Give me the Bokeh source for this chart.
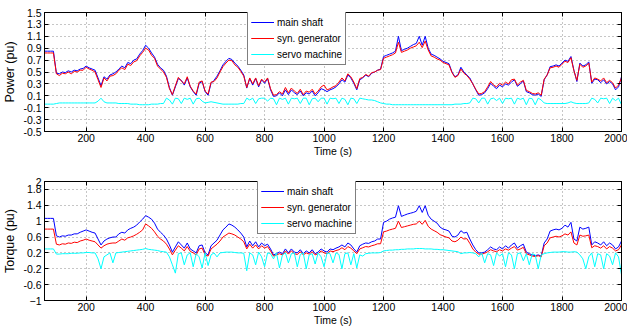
from bokeh.plotting import figure
from bokeh.layouts import column
from bokeh.models import FixedTicker, Legend, LegendItem, LinearAxis
from bokeh.embed import file_html
from bokeh.resources import INLINE

# time axis (s), 10 s sampling
TIME = list(range(60, 2001, 10))

P_MAIN = [0.85, 0.85, 0.85, 0.85,
          0.48, 0.47, 0.5, 0.49, 0.52, 0.5, 0.53, 0.52, 0.55, 0.56,
          0.6, 0.57, 0.55, 0.53, 0.4, 0.27, 0.42, 0.38, 0.45, 0.47,
          0.5, 0.55, 0.6, 0.57, 0.66, 0.64, 0.7, 0.72, 0.8, 0.86,
          0.95, 0.9, 0.82, 0.75, 0.63, 0.57, 0.53, 0.43, 0.24, 0.11,
          0.25, 0.39, 0.36, 0.28, 0.4, 0.25, 0.17, 0.11, 0.31, 0.34,
          0.17, 0.11, 0.31, 0.36, 0.43, 0.52, 0.62, 0.68, 0.73, 0.71,
          0.65, 0.6, 0.53, 0.45, 0.23, 0.39, 0.28, 0.39, 0.25, 0.37,
          0.31, 0.39, 0.2, 0.09, 0.1, 0.15, 0.1, 0.2, 0.12, 0.2,
          0.15, 0.12, 0.18, 0.1, 0.15, 0.13, 0.18, 0.1, 0.15, 0.22,
          0.2, 0.17, 0.2, 0.22, 0.25, 0.3, 0.37, 0.33, 0.45, 0.4,
          0.31, 0.2, 0.37, 0.4, 0.45, 0.42, 0.48, 0.5, 0.53, 0.55,
          0.76, 0.78, 0.8, 0.82, 0.85, 1.1, 0.86, 0.88, 0.9, 0.93,
          0.96, 0.98, 1.1, 0.95, 1.1, 0.9, 0.8, 0.78, 0.75, 0.72,
          0.68, 0.66, 0.64, 0.5, 0.42, 0.45, 0.58, 0.5, 0.45, 0.4,
          0.3, 0.2, 0.11, 0.12, 0.15, 0.22, 0.31, 0.26, 0.22, 0.28,
          0.25, 0.3, 0.28, 0.33, 0.37, 0.26, 0.3, 0.35, 0.17, 0.15,
          0.12, 0.11, 0.13, 0.09, 0.37, 0.45, 0.59, 0.6, 0.62, 0.6,
          0.65, 0.7, 0.68, 0.76, 0.53, 0.34, 0.65, 0.6, 0.62, 0.67,
          0.31, 0.38, 0.37, 0.32, 0.37, 0.3, 0.34, 0.3, 0.2, 0.25,
          0.42]

P_GEN = [0.82, 0.82, 0.82, 0.82,
         0.47, 0.44, 0.48, 0.47, 0.5, 0.47, 0.51, 0.5, 0.53, 0.53,
         0.58, 0.55, 0.53, 0.5, 0.37, 0.24, 0.4, 0.35, 0.43, 0.44,
         0.47, 0.53, 0.57, 0.54, 0.63, 0.61, 0.67, 0.69, 0.77, 0.83,
         0.9, 0.87, 0.78, 0.73, 0.6, 0.55, 0.5, 0.41, 0.22, 0.12,
         0.27, 0.41, 0.35, 0.3, 0.42, 0.26, 0.18, 0.13, 0.33, 0.35,
         0.18, 0.13, 0.33, 0.34, 0.4, 0.5, 0.59, 0.65, 0.7, 0.69,
         0.62, 0.58, 0.51, 0.43, 0.24, 0.4, 0.3, 0.4, 0.27, 0.38,
         0.33, 0.4, 0.22, 0.11, 0.12, 0.17, 0.13, 0.24, 0.15, 0.23,
         0.18, 0.14, 0.21, 0.12, 0.18, 0.16, 0.21, 0.13, 0.18, 0.25,
         0.28, 0.2, 0.22, 0.25, 0.27, 0.33, 0.4, 0.35, 0.47, 0.42,
         0.33, 0.22, 0.39, 0.41, 0.46, 0.43, 0.49, 0.5, 0.53, 0.54,
         0.73, 0.75, 0.77, 0.79, 0.82, 1.0, 0.83, 0.85, 0.87, 0.9,
         0.92, 0.94, 1.0, 0.91, 1.02, 0.87, 0.77, 0.75, 0.72, 0.7,
         0.66, 0.64, 0.62, 0.49, 0.41, 0.44, 0.55, 0.48, 0.44, 0.38,
         0.3, 0.21, 0.13, 0.14, 0.17, 0.25, 0.34, 0.28, 0.25, 0.31,
         0.28, 0.33, 0.3, 0.37, 0.38, 0.28, 0.33, 0.36, 0.19, 0.17,
         0.14, 0.13, 0.15, 0.11, 0.38, 0.45, 0.57, 0.58, 0.6, 0.58,
         0.63, 0.68, 0.66, 0.74, 0.52, 0.36, 0.63, 0.58, 0.6, 0.65,
         0.33, 0.4, 0.38, 0.35, 0.4, 0.32, 0.36, 0.32, 0.23, 0.28,
         0.4]

P_SERVO = [-0.04, -0.04, -0.04, -0.04,
           -0.03, -0.02, -0.02, -0.02, -0.02, -0.02, -0.02, -0.02, -0.02, -0.02,
           -0.02, -0.02, -0.02, -0.02, 0.01, 0.06, 0.0, -0.02, -0.02, -0.02,
           -0.02, -0.03, -0.03, -0.03, -0.03, -0.04, -0.04, -0.04, -0.05, -0.05,
           -0.05, -0.05, -0.04, -0.04, -0.04, -0.03, -0.03, 0.06, 0.03, -0.04,
           0.06, 0.05, -0.03, 0.06, 0.04, 0.06, -0.04, 0.05, 0.06, 0.01,
           -0.02, -0.01, 0.0, -0.01, -0.02, -0.03, -0.04, -0.04, -0.04, -0.04,
           -0.04, -0.04, -0.03, -0.03, 0.06, 0.03, 0.06, -0.03, 0.05, 0.06,
           0.06, 0.01, 0.06, 0.05, -0.05, 0.06, 0.04, 0.06, -0.04, 0.06,
           0.05, 0.06, -0.03, 0.06, 0.06, -0.05, 0.05, 0.06, 0.0, 0.06,
           0.06, -0.04, 0.06, 0.05, 0.06, -0.03, 0.06, 0.04, -0.05, 0.06,
           0.05, -0.03, 0.06, 0.05, 0.04, 0.03, 0.03, 0.02, 0.0, -0.02,
           -0.03, -0.04, -0.04, -0.05, -0.05, -0.05, -0.05, -0.05, -0.05, -0.05,
           -0.05, -0.05, -0.05, -0.05, -0.05, -0.05, -0.05, -0.05, -0.05, -0.05,
           -0.05, -0.05, -0.05, -0.05, -0.04, -0.04, -0.04, -0.03, -0.03, -0.02,
           0.06, 0.05, -0.02, 0.06, 0.06, -0.04, 0.05, 0.06, 0.02, 0.06,
           -0.03, 0.06, 0.05, 0.06, -0.04, 0.06, 0.04, 0.06, -0.05, 0.06,
           0.05, -0.05, 0.06, 0.03, -0.02, -0.03, -0.03, -0.03, -0.03, -0.03,
           -0.03, -0.03, -0.02, 0.0, -0.02, -0.03, -0.03, -0.03, -0.03, -0.02,
           0.06, 0.04, -0.02, 0.06, 0.05, 0.06, -0.03, 0.06, 0.02, 0.06,
           -0.05]

T_MAIN = [1.07, 1.07, 1.07, 1.07,
          0.63, 0.6, 0.63, 0.62, 0.65, 0.65, 0.68, 0.68, 0.72, 0.75,
          0.78, 0.75, 0.72, 0.7, 0.55, 0.4, 0.5, 0.55, 0.58, 0.6,
          0.6, 0.68, 0.72, 0.7, 0.78, 0.82, 0.85, 0.9, 0.98, 1.05,
          1.14, 1.1, 1.05, 0.95, 0.8, 0.72, 0.65, 0.55, 0.4, 0.22,
          0.35, 0.48, 0.4, 0.32, 0.45, 0.3, 0.25, 0.2, 0.38, 0.4,
          0.2, 0.15, 0.38, 0.45, 0.52, 0.65, 0.78, 0.85, 0.93, 0.9,
          0.85, 0.78, 0.7, 0.6, 0.35, 0.5, 0.38, 0.48, 0.35, 0.45,
          0.38, 0.42, 0.3, 0.15, 0.18, 0.22, 0.18, 0.3, 0.2, 0.3,
          0.22, 0.2, 0.28, 0.18, 0.25, 0.2, 0.28, 0.18, 0.22, 0.3,
          0.25, 0.22, 0.3, 0.28, 0.32, 0.35, 0.4, 0.35, 0.45, 0.4,
          0.3, 0.22, 0.38, 0.42, 0.45, 0.44, 0.48, 0.5, 0.55, 0.55,
          0.97, 1.0, 1.05, 1.08, 1.1, 1.39, 1.12, 1.15, 1.18, 1.2,
          1.22, 1.25, 1.39, 1.22, 1.39, 1.15, 1.05, 1.0, 0.95, 0.85,
          0.8, 0.78, 0.75, 0.62, 0.6, 0.65, 0.76, 0.7, 0.72, 0.55,
          0.4, 0.28, 0.2, 0.2, 0.22, 0.28, 0.35, 0.3, 0.28, 0.35,
          0.3, 0.38, 0.32, 0.4, 0.45, 0.32, 0.38, 0.42, 0.22, 0.18,
          0.15, 0.13, 0.15, 0.12, 0.45, 0.55, 0.75, 0.78, 0.8, 0.78,
          0.82, 0.9, 0.85, 0.97, 0.55, 0.5, 0.85, 0.8, 0.82, 0.85,
          0.4, 0.48, 0.45, 0.4, 0.48, 0.38, 0.45, 0.4, 0.3, 0.35,
          0.5]

T_GEN = [0.8, 0.8, 0.8, 0.8,
         0.42, 0.4, 0.43, 0.42, 0.45, 0.44, 0.47, 0.46, 0.5, 0.52,
         0.55, 0.52, 0.5, 0.48, 0.4, 0.32, 0.38, 0.42, 0.44, 0.45,
         0.45, 0.5, 0.55, 0.52, 0.58, 0.6, 0.63, 0.67, 0.72, 0.78,
         0.93, 0.88, 0.82, 0.73, 0.62, 0.55, 0.5, 0.42, 0.3, 0.15,
         0.27, 0.38, 0.32, 0.25, 0.36, 0.24, 0.2, 0.15, 0.3, 0.32,
         0.15, 0.12, 0.3, 0.36, 0.42, 0.5, 0.6, 0.65, 0.7, 0.68,
         0.65, 0.6, 0.55, 0.48, 0.3, 0.42, 0.32, 0.4, 0.3, 0.38,
         0.32, 0.36, 0.25, 0.12, 0.15, 0.18, 0.15, 0.25, 0.17, 0.25,
         0.18, 0.16, 0.23, 0.15, 0.2, 0.17, 0.23, 0.15, 0.18, 0.25,
         0.2, 0.18, 0.25, 0.23, 0.26, 0.28, 0.33, 0.28, 0.36, 0.32,
         0.25, 0.18, 0.3, 0.33, 0.36, 0.35, 0.38, 0.4, 0.43, 0.43,
         0.73, 0.75, 0.78, 0.8, 0.82, 1.0, 0.84, 0.86, 0.88, 0.9,
         0.92, 0.93, 1.0, 0.92, 1.02, 0.87, 0.8, 0.76, 0.72, 0.66,
         0.63, 0.6, 0.58, 0.5, 0.48, 0.52, 0.6, 0.55, 0.56, 0.44,
         0.3, 0.22, 0.17, 0.17, 0.19, 0.23, 0.28, 0.25, 0.23, 0.28,
         0.25, 0.3, 0.27, 0.32, 0.36, 0.27, 0.3, 0.34, 0.18, 0.15,
         0.12, 0.11, 0.13, 0.1, 0.38, 0.45, 0.58, 0.6, 0.62, 0.6,
         0.63, 0.68, 0.65, 0.73, 0.45, 0.4, 0.65, 0.62, 0.63, 0.65,
         0.33, 0.38, 0.36, 0.32, 0.38, 0.3, 0.36, 0.32, 0.25, 0.28,
         0.4]

T_SERVO = [0.3, 0.3, 0.3, 0.3,
           0.17, 0.17, 0.18, 0.18, 0.18, 0.19, 0.19, 0.19, 0.2, 0.2,
           0.21, 0.21, 0.2, 0.2, 0.05, -0.2, 0.1, 0.15, 0.2, -0.05,
           0.2, 0.21, 0.22, 0.23, 0.24, 0.25, 0.26, 0.27, 0.28, 0.29,
           0.31, 0.29, 0.28, 0.27, 0.26, 0.24, 0.23, 0.22, 0.1, -0.1,
           -0.31, 0.18, 0.2, -0.1, 0.15, 0.2, -0.15, 0.18, 0.1, -0.18,
           0.2, -0.12, 0.15, 0.2, 0.1, 0.2, 0.21, 0.22, 0.22, 0.22,
           0.21, 0.2, 0.2, 0.19, -0.25, 0.2, 0.15, -0.1, 0.22, 0.1,
           -0.15, 0.2, 0.18, 0.05, 0.2, -0.18, 0.15, 0.2, -0.05, 0.18,
           0.2, -0.15, 0.16, 0.2, -0.2, 0.15, 0.18, -0.08, 0.2, 0.1,
           -0.15, 0.2, 0.18, -0.05, 0.2, 0.16, -0.2, 0.18, 0.2, -0.1,
           0.18, -0.18, 0.15, 0.12, 0.18, 0.19, 0.2, 0.2, 0.2, 0.21,
           0.25, 0.26, 0.27, 0.27, 0.28, 0.28, 0.29, 0.29, 0.3, 0.3,
           0.3, 0.31, 0.31, 0.31, 0.3, 0.3, 0.3, 0.29, 0.29, 0.28,
           0.28, 0.27, 0.26, 0.25, 0.24, 0.23, 0.18, 0.2, 0.2, 0.21,
           0.2, 0.18, 0.1, 0.2, -0.05, 0.18, 0.15, -0.12, 0.2, 0.12,
           0.18, -0.15, 0.2, 0.15, -0.2, 0.18, 0.2, 0.0, 0.18, -0.1,
           0.18, 0.15, -0.2, 0.15, 0.18, 0.2, 0.21, 0.22, 0.22, 0.22,
           0.23, 0.23, 0.22, 0.22, 0.23, 0.22, 0.15, 0.05, -0.2, 0.1,
           0.2, -0.15, 0.18, 0.15, -0.2, 0.18, 0.12, -0.1, 0.2, 0.1,
           -0.35]

SERIES_NAMES = ["main shaft", "syn. generator", "servo machine"]
COLORS = ["#0000ff", "#ff0000", "#00ffff"]

X_TICKS = [200, 400, 600, 800, 1000, 1200, 1400, 1600, 1800, 2000]
P_TICKS = [-0.5, -0.3, -0.1, 0.1, 0.3, 0.5, 0.7, 0.9, 1.1, 1.3, 1.5]
P_TICK_LABELS = ["-0.5", "-0.3", "-0.1", "0.1", "0.3", "0.5", "0.7", "0.9", "1.1", "1.3", "1.5"]
T_TICKS = [-1, -0.6, -0.2, 0.2, 0.6, 1, 1.4, 1.8, 2]
T_TICK_LABELS = ["\u22121", "-0.6", "-0.2", "0.2", "0.6", "1", "1.4", "1.8", "2"]

FONT = "Liberation Sans"


def style_axis(ax):
    ax.major_tick_in = 4
    ax.major_tick_out = 0
    ax.minor_tick_in = 0
    ax.minor_tick_out = 0
    ax.axis_line_color = "black"
    ax.major_tick_line_color = "black"
    ax.major_label_text_font = FONT
    ax.major_label_text_font_size = "10.5px"
    ax.major_label_text_color = "black"
    ax.axis_label_text_font = FONT
    ax.axis_label_text_font_style = "normal"
    ax.axis_label_text_color = "black"


def make_fig(yrange, yticks, ylabels, ylab, series, top_border, bottom_border, legend_loc):
    p = figure(frame_width=577, frame_height=119, x_range=(60, 2000), y_range=yrange,
               output_backend="svg", toolbar_location=None,
               min_border_left=37, min_border_right=6,
               min_border_top=top_border, min_border_bottom=bottom_border)
    p.background_fill_color = "white"
    p.border_fill_color = "white"
    p.outline_line_color = "black"
    p.outline_line_width = 1
    renderers = []
    for ys, col in zip(series, COLORS):
        r = p.line(TIME, ys, line_color=col, line_width=1)
        renderers.append(r)
    p.xaxis.ticker = FixedTicker(ticks=X_TICKS)
    p.yaxis.ticker = FixedTicker(ticks=yticks)
    p.yaxis.major_label_overrides = {t: l for t, l in zip(yticks, ylabels)}
    p.xaxis.major_label_overrides = {t: str(t) for t in X_TICKS}
    for ax in (p.xaxis[0], p.yaxis[0]):
        style_axis(ax)
    p.xaxis.axis_label_text_font_size = "10.5px"
    p.yaxis.axis_label_text_font_size = "12.5px"
    p.xaxis.major_label_standoff = 2
    p.yaxis.major_label_standoff = 3
    p.xaxis.axis_label = "Time (s)"
    p.yaxis.axis_label = ylab
    p.xaxis.axis_label_standoff = 0
    p.yaxis.axis_label_standoff = 3

    # box-style tick marks on the top and right sides (no labels)
    top_ax = LinearAxis(ticker=FixedTicker(ticks=X_TICKS))
    right_ax = LinearAxis(ticker=FixedTicker(ticks=yticks))
    for ax in (top_ax, right_ax):
        style_axis(ax)
        ax.major_label_text_font_size = "0px"
        ax.major_label_standoff = 0
    p.add_layout(top_ax, "above")
    p.add_layout(right_ax, "right")

    for g in (p.xgrid[0], p.ygrid[0]):
        g.grid_line_color = "#8c8c8c"
        g.grid_line_dash = "1 3"
        g.grid_line_width = 1
    p.xgrid.ticker = FixedTicker(ticks=X_TICKS)
    p.ygrid.ticker = FixedTicker(ticks=yticks)

    items = [LegendItem(label=n, renderers=[r, r]) for n, r in zip(SERIES_NAMES, renderers)]
    leg = Legend(items=items, location=legend_loc)
    leg.label_text_font = FONT
    leg.label_text_font_size = "10px"
    leg.label_text_color = "black"
    leg.label_height = 14
    leg.glyph_height = 14
    leg.glyph_width = 23
    leg.label_standoff = 3
    leg.spacing = 2
    leg.padding = 3
    leg.margin = 0
    leg.border_line_color = "black"
    leg.border_line_width = 1
    leg.background_fill_color = "white"
    leg.background_fill_alpha = 1.0
    p.add_layout(leg, "center")
    return p


p1 = make_fig((-0.5, 1.5), P_TICKS, P_TICK_LABELS, "Power (pu)",
              [P_MAIN, P_GEN, P_SERVO], 12, 28, (203, 66))
p2 = make_fig((-1, 2), T_TICKS, T_TICK_LABELS, "Torque (pu)",
              [T_MAIN, T_GEN, T_SERVO], 22, 26, (213, 66))

layout = column(p1, p2, spacing=0)
open("out.html", "w").write(file_html(layout, INLINE))
